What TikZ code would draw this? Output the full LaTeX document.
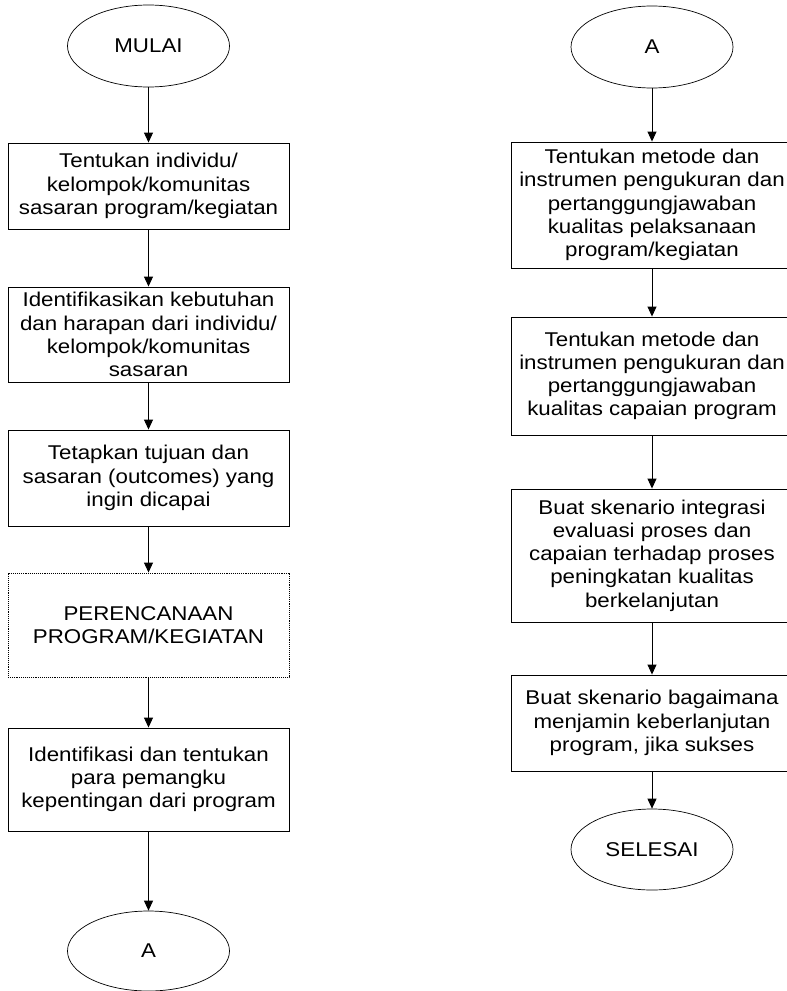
\documentclass[tikz,border=0pt]{standalone}
\usepackage{fontspec}
\setmainfont{Liberation Sans}[FakeStretch=1.12]
\usetikzlibrary{shapes.geometric,arrows.meta}

\begin{document}
\begin{tikzpicture}[x=1bp, y=-1bp,
  every node/.style={font=\fontsize{20}{23.3}\selectfont, align=center, inner sep=0pt},
  langkah/.style={draw, line width=0.9bp, minimum width=281bp},
  terminal/.style={draw, ellipse, line width=0.7bp, minimum width=162bp, minimum height=82bp},
  panah/.style={-{Triangle[width=9bp,length=10bp]}, line width=0.9bp}]

\useasboundingbox (0,0) rectangle (787,991);

% kolom kiri
\node[terminal] (mulai) at (148.5,46) {MULAI};
\node[langkah, minimum height=86bp] (sasaran) at (148.5,186)
  {Tentukan individu/\\kelompok/komunitas\\sasaran program/kegiatan};
\node[langkah, minimum height=95bp] (kebutuhan) at (148.5,334.5)
  {Identifikasikan kebutuhan\\dan harapan dari individu/\\kelompok/komunitas\\sasaran};
\node[langkah, minimum height=96bp] (tujuan) at (148.5,478)
  {Tetapkan tujuan dan\\sasaran (outcomes) yang\\ingin dicapai};
\node[langkah, densely dotted, minimum height=104bp] (rencana) at (148.5,625)
  {PERENCANAAN\\PROGRAM/KEGIATAN};
\node[langkah, minimum height=103bp] (pemangku) at (148.5,779.5)
  {Identifikasi dan tentukan\\para pemangku\\kepentingan dari program};
\node[terminal, minimum height=80bp] (akiri) at (148.5,951) {A};

% kolom kanan
\node[terminal] (akanan) at (652,47) {A};
\node[langkah, minimum height=126bp] (ukurproses) at (652,205)
  {Tentukan metode dan\\instrumen pengukuran dan\\pertanggungjawaban\\kualitas pelaksanaan\\program/kegiatan};
\node[langkah, minimum height=118bp] (ukurcapai) at (652,376)
  {Tentukan metode dan\\instrumen pengukuran dan\\pertanggungjawaban\\kualitas capaian program};
\node[langkah, minimum height=133bp] (integrasi) at (652,555.5)
  {Buat skenario integrasi\\evaluasi proses dan\\capaian terhadap proses\\peningkatan kualitas\\berkelanjutan};
\node[langkah, minimum height=96bp] (lanjut) at (652,723)
  {Buat skenario bagaimana\\menjamin keberlanjutan\\program, jika sukses};
\node[terminal, minimum height=81bp] (selesai) at (652,849.5) {SELESAI};

\draw[panah] (mulai) -- (sasaran);
\draw[panah] (sasaran) -- (kebutuhan);
\draw[panah] (kebutuhan) -- (tujuan);
\draw[panah] (tujuan) -- (rencana);
\draw[panah] (rencana) -- (pemangku);
\draw[panah] (pemangku) -- (akiri);

\draw[panah] (akanan) -- (ukurproses);
\draw[panah] (ukurproses) -- (ukurcapai);
\draw[panah] (ukurcapai) -- (integrasi);
\draw[panah] (integrasi) -- (lanjut);
\draw[panah] (lanjut) -- (selesai);
\end{tikzpicture}
\end{document}
